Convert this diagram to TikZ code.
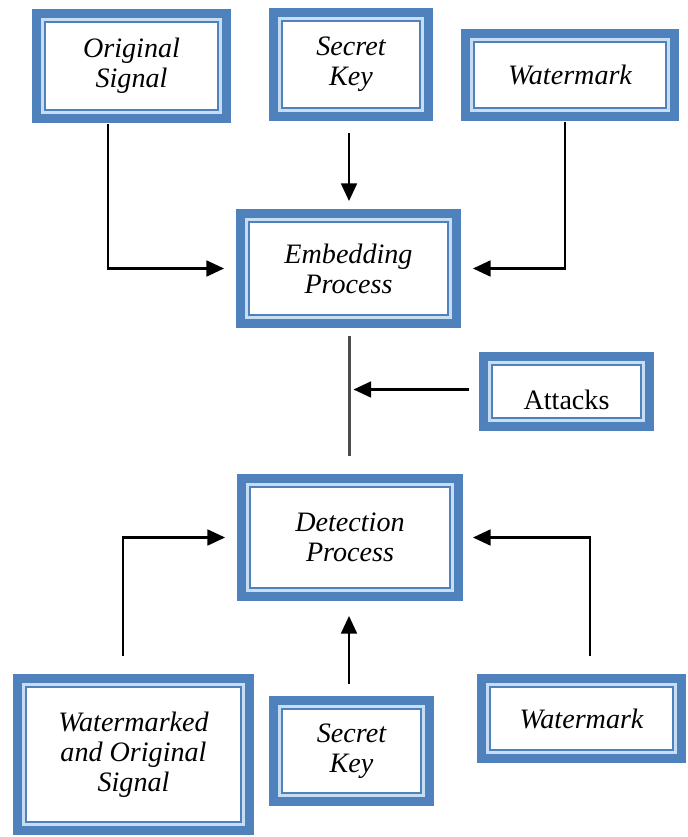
\documentclass[tikz,border=0pt]{standalone}
\usepackage{fontspec}
\setmainfont{Liberation Serif}
\usetikzlibrary{arrows.meta,calc}

\definecolor{boxblue}{HTML}{4F81BD}
\definecolor{bandblue}{HTML}{C6DDF2}

\tikzset{
  wbox/.style={draw=boxblue, line width=1.1pt, fill=white, align=center,
    inner sep=0pt, font=\fontsize{16}{17}\selectfont\itshape},
  flow/.style={draw=black, line width=1.3pt, -{Triangle[length=10pt,width=9pt]}},
  link/.style={draw=black!70, line width=1.3pt},
}

\begin{document}
\begin{tikzpicture}[x=0.02cm,y=-0.02cm]
    \useasboundingbox (0,0) rectangle (688,837);

    % inputs of the embedding
    \node[wbox, minimum width=3.46cm, minimum height=1.76cm] (orig) at (131.5,66) {Original\\Signal};
    \node[wbox, minimum width=2.76cm, minimum height=1.74cm] (key1) at (351,64.5) {Secret\\Key};
    \node[wbox, minimum width=3.84cm, minimum height=1.32cm] (wm1) at (570,75) {Watermark};
    \node[wbox, minimum width=3.98cm, minimum height=1.86cm] (emb) at (348.5,268.5) {Embedding\\Process};

    \node[wbox, minimum width=2.98cm, minimum height=1.06cm, font=\fontsize{16}{17}\selectfont] (att) at (566.5,391.5) {\raisebox{-5pt}[\height][\depth]{Attacks}};

    % inputs of the detection
    \node[wbox, minimum width=4.0cm, minimum height=2.02cm] (det) at (350,537.5) {Detection\\Process};
    \node[wbox, minimum width=4.3cm, minimum height=2.7cm] (wmo) at (133.5,754.5) {Watermarked\\and Original\\Signal};
    \node[wbox, minimum width=2.78cm, minimum height=1.68cm] (key2) at (351.5,751) {Secret\\Key};
    \node[wbox, minimum width=3.66cm, minimum height=1.26cm] (wm2) at (581.5,718.5) {Watermark};

    % double frames
    \foreach \n in {orig,key1,wm1,emb,att,det,wmo,key2,wm2}{
        \draw[bandblue, line width=2pt] ([xshift=-1pt,yshift=1pt]\n.north west) rectangle ([xshift=1pt,yshift=-1pt]\n.south east);
        \draw[boxblue, line width=4.6pt] ([xshift=-4.3pt,yshift=4.3pt]\n.north west) rectangle ([xshift=4.3pt,yshift=-4.3pt]\n.south east);
    }

    \draw[flow] ($(orig.south)+(-23.5,13)$) |- ($(emb.west)+(-24,0)$);
    \draw[flow] ($(key1.south)+(-2,24)$) -- ($(key1.south |- emb.north)+(-2,-20)$);
    \draw[flow] ($(wm1.south)+(-5,13)$) |- ($(emb.east)+(24,0)$);

    \draw[link] ($(emb.south)+(1,20)$) -- ($(emb.south |- det.north)+(1,-30)$);
    \draw[flow] ($(att.west)+(-22,-2)$) -- ($(att.west -| emb.south)+(5,-2)$);

    \draw[flow] ($(wmo.north)+(-10.5,-30)$) |- ($(det.west)+(-24,0)$);
    \draw[flow] ($(key2.north)+(-2.5,-24)$) -- ($(key2.north |- det.south)+(-2.5,27)$);
    \draw[flow] ($(wm2.north)+(8.5,-30)$) |- ($(det.east)+(22,0)$);
\end{tikzpicture}
\end{document}
